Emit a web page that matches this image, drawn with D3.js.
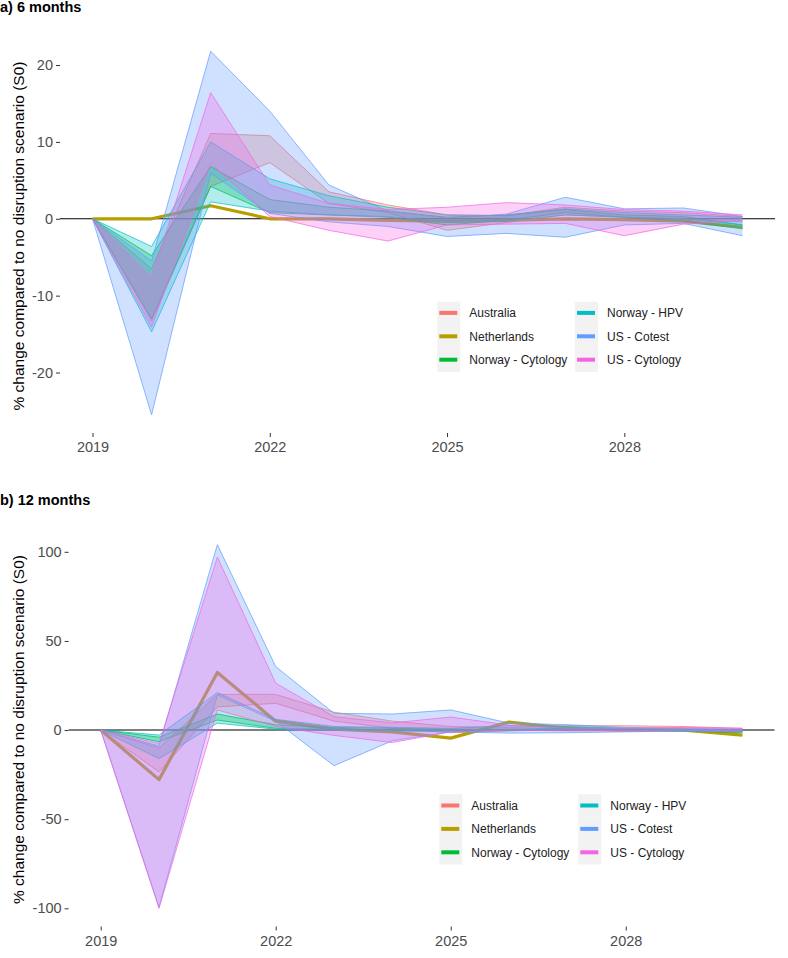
<!DOCTYPE html>
<html><head><meta charset="utf-8">
<script src="https://cdn.jsdelivr.net/npm/d3@7"></script>
<style>
body{margin:0;background:#fff}
svg{display:block;font-family:"Liberation Sans",Arial,sans-serif}
</style>
</head><body>
<svg id="chart" width="788" height="958"></svg>
<script>
// ---------- data ----------
const years = [2019, 2020, 2021, 2022, 2023, 2024, 2025, 2026, 2027, 2028, 2029, 2030];
const xTicks = [2019, 2022, 2025, 2028];
const seriesNames = ["Australia", "Netherlands", "Norway - Cytology", "Norway - HPV", "US - Cotest", "US - Cytology"];
const seriesColors = ["#F8766D", "#B79F00", "#00BA38", "#00BFC4", "#619CFF", "#F564E3"];
const panelTitles = ["a) 6 months", "b) 12 months"];
const yTicksA = [-20, -10, 0, 10, 20];
const yTicksB = [-100, -50, 0, 50, 100];
const yTitle = "% change compared to no disruption scenario (S0)";

// panel a) 6 months
const A_Australia_hi = [0, -6.5, 11.1, 10.8, 3.5, 1.8, 0.5, 0.4, 1.5, 1.0, 0.8, 0.3];
const A_Australia_lo = [0, -13.3, 4.2, 7.3, 2.0, 0.8, -1.5, -0.5, 0.5, 0.2, 0.0, -0.4];
const A_Netherlands  = [0, 0, 1.7, 0, 0, -0.2, -0.3, -0.2, 0, -0.1, -0.3, -1.1];
const A_NorCyt_hi    = [0, -4.8, 6.8, 2.5, 1.5, 1.0, 0.2, 0.5, 1.2, 0.5, 0.3, -0.8];
const A_NorCyt_lo    = [0, -13.0, 4.2, 0.8, 0.5, 0.2, -0.8, -0.2, 0.8, 0.2, -0.3, -1.3];
const A_NorHPV_hi    = [0, -3.6, 10.0, 5.2, 3.0, 1.5, 0.5, 0.4, 1.3, 0.8, 0.5, 0.2];
const A_NorHPV_lo    = [0, -14.7, 2.2, 1.0, 0.5, 0.3, -0.5, -0.3, 0.5, 0.2, 0.0, -0.8];
const A_Cotest_hi    = [0, -5.5, 21.8, 14.0, 4.4, 1.0, 0.1, 0.6, 2.8, 1.3, 1.4, 0.3];
const A_Cotest_lo    = [0, -25.5, 5.9, 0.7, -0.4, -1.0, -2.3, -1.9, -2.4, -0.8, -0.6, -2.2];
const A_Cyto_hi      = [0, -7.7, 16.4, 4.4, 2.0, 1.2, 1.5, 2.1, 1.8, 1.2, 1.0, 0.5];
const A_Cyto_lo      = [0, -14.1, 7.2, 0.3, -1.5, -2.9, -0.8, -0.7, -0.6, -2.2, -0.7, -0.2];

// panel b) 12 months
const B_Australia_hi = [0, -10, 20, 20, 10, 5, 2, 1.5, 2.5, 2.4, 2, 1];
const B_Australia_lo = [0, -23.5, 13, 15, 5, 1, -1.5, -0.5, 0.5, 0.5, 0, -1];
const B_Netherlands  = [0, -27.8, 32.3, 5, 0.5, -1, -4.5, 4.5, 1, 0, 0, -2.8];
const B_NorCyt_hi    = [0, -4, 9, 3, 1.5, 1, 0.5, 0.5, 1, 0.5, 0.3, -0.5];
const B_NorCyt_lo    = [0, -6.5, 5.6, 1, 0.3, 0, -0.5, -0.3, 0, 0, -0.5, -1.5];
const B_NorHPV_hi    = [0, -2.8, 21, 6, 2, 1.5, 1, 2.5, 2, 1, 0.5, 0];
const B_NorHPV_lo    = [0, -16, 3.9, 0.5, 0, -0.5, -1, 0, 0.5, 0, -0.5, -1];
const B_Cotest_hi    = [0, -9, 104, 35.6, 9.4, 9, 11.3, 3.9, 3, 1.5, 1, 0.5];
const B_Cotest_lo    = [0, -99.5, 19.7, 5, -20, -6, -1, -1.7, -1.5, -1, -0.5, -1];
const B_Cyto_hi      = [0, -7.5, 97, 26.3, 7.5, 4, 7.3, 2.8, 1, 1, 1.5, 1];
const B_Cyto_lo      = [0, -100, 11.3, 2, -3, -7, -1, 0, -0.5, -0.5, 0, -0.5];

// ---------- assemble ----------
function bands(lists) {
  return lists.map((l, i) => ({
    name: seriesNames[i], color: seriesColors[i],
    line: l.length === 1,
    pts: years.map((y, j) => ({year: y, lo: l[0][j], hi: (l.length === 1 ? l[0][j] : l[1][j])}))
  }));
}
const panelA = bands([[A_Australia_lo, A_Australia_hi], [A_Netherlands], [A_NorCyt_lo, A_NorCyt_hi],
                      [A_NorHPV_lo, A_NorHPV_hi], [A_Cotest_lo, A_Cotest_hi], [A_Cyto_lo, A_Cyto_hi]]);
const panelB = bands([[B_Australia_lo, B_Australia_hi], [B_Netherlands], [B_NorCyt_lo, B_NorCyt_hi],
                      [B_NorHPV_lo, B_NorHPV_hi], [B_Cotest_lo, B_Cotest_hi], [B_Cyto_lo, B_Cyto_hi]]);

const svg = d3.select("#chart");

const layouts = [
  {series: panelA, yTicks: yTicksA, title: panelTitles[0], titleY: 12, left: 60, right: 775, top: 33, bottom: 433,
   legX: [437.3, 575], legTop: 301.7},
  {series: panelB, yTicks: yTicksB, title: panelTitles[1], titleY: 504.5, left: 68.6, right: 774.5, top: 526.5, bottom: 926.5,
   legX: [439.3, 578.3], legTop: 794.3}
];

layouts.forEach(L => {
  const g = svg.append("g");
  const xExt = d3.extent(years);
  const xPad = (xExt[1] - xExt[0]) * 0.05;
  const x = d3.scaleLinear().domain([xExt[0] - xPad, xExt[1] + xPad]).range([L.left, L.right]);
  const allV = L.series.flatMap(s => s.pts.flatMap(p => [p.lo, p.hi]));
  const yExt = d3.extent(allV);
  const yPad = (yExt[1] - yExt[0]) * 0.05;
  const y = d3.scaleLinear().domain([yExt[0] - yPad, yExt[1] + yPad]).range([L.bottom, L.top]);

  g.append("text").attr("x", 0).attr("y", L.titleY).attr("font-size", 14.5).attr("font-weight", "bold")
    .attr("fill", "#000").text(L.title);

  g.append("text")
    .attr("transform", `translate(${24},${(L.top + L.bottom) / 2 + 3}) rotate(-90)`)
    .attr("text-anchor", "middle").attr("font-size", 15.5).attr("fill", "#000").text(yTitle);

  const xAxis = d3.axisBottom(x).tickValues(xTicks).tickSize(4).tickPadding(5).tickFormat(d => String(d));
  const gx = g.append("g").attr("transform", `translate(0,${L.bottom})`).call(xAxis);
  const yAxis = d3.axisLeft(y).tickValues(L.yTicks).tickSize(4).tickPadding(3).tickFormat(d => String(d));
  const gy = g.append("g").attr("transform", `translate(${L.left},0)`).call(yAxis);
  [gx, gy].forEach(a => {
    a.select(".domain").remove();
    a.selectAll(".tick line").attr("stroke", "#333").attr("stroke-width", 1);
    a.selectAll(".tick text").attr("fill", "#4d4d4d").attr("font-size", 14.5)
      .attr("font-family", '"Liberation Sans",Arial,sans-serif');
  });

  g.append("line").attr("x1", L.left).attr("x2", L.right).attr("y1", y(0)).attr("y2", y(0))
    .attr("stroke", "#000").attr("stroke-width", 1.1);

  const area = d3.area().x(d => x(d.year)).y0(d => y(d.lo)).y1(d => y(d.hi));
  const lineHi = d3.line().x(d => x(d.year)).y(d => y(d.hi));
  const lineLo = d3.line().x(d => x(d.year)).y(d => y(d.lo));

  L.series.forEach(s => {
    if (s.line) {
      g.append("path").attr("d", lineHi(s.pts)).attr("fill", "none")
        .attr("stroke", s.color).attr("stroke-width", 3.2).attr("stroke-linejoin", "round");
    } else {
      g.append("path").attr("d", area(s.pts)).attr("fill", s.color).attr("fill-opacity", 0.3);
      g.append("path").attr("d", lineHi(s.pts)).attr("fill", "none").attr("stroke", s.color)
        .attr("stroke-width", 0.8).attr("stroke-opacity", 0.9);
      g.append("path").attr("d", lineLo(s.pts)).attr("fill", "none").attr("stroke", s.color)
        .attr("stroke-width", 0.8).attr("stroke-opacity", 0.9);
    }
  });

  const keyW = 23, keyH = 23.4;
  seriesNames.forEach((name, i) => {
    const col = Math.floor(i / 3), row = i % 3;
    const kx = L.legX[col], ky = L.legTop + row * keyH;
    g.append("rect").attr("x", kx).attr("y", ky).attr("width", keyW).attr("height", keyH).attr("fill", "#f2f2f2");
    g.append("line").attr("x1", kx + 2).attr("x2", kx + keyW - 3).attr("y1", ky + keyH / 2 - 0.5).attr("y2", ky + keyH / 2 - 0.5)
      .attr("stroke", seriesColors[i]).attr("stroke-width", 4);
    g.append("text").attr("x", kx + keyW + 9).attr("y", ky + keyH / 2 + 4).attr("font-size", 12)
      .attr("fill", "#222").text(name);
  });
});
</script>
</body></html>
